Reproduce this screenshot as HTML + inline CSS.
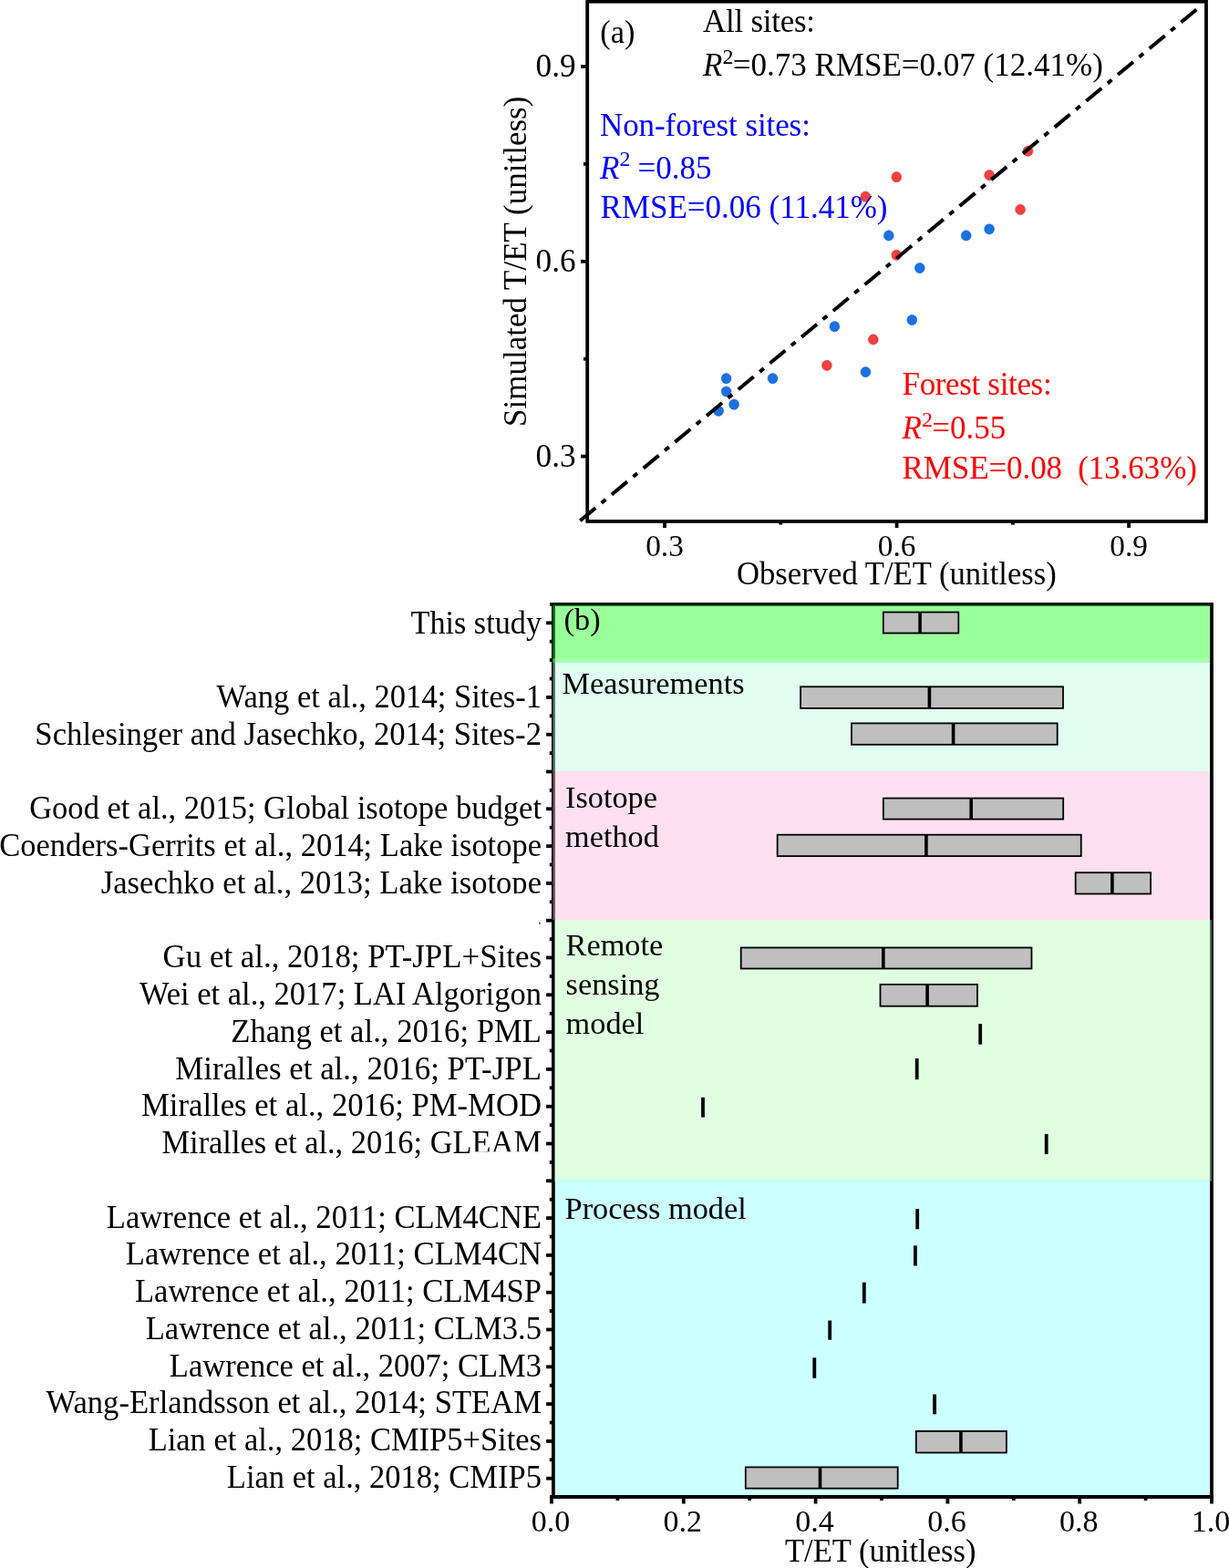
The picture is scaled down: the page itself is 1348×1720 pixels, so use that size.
<!DOCTYPE html>
<html lang="en">
<head>
<meta charset="utf-8">
<title>T/ET evaluation figure</title>
<style>html,body{margin:0;padding:0;background:#fff}svg{display:block}</style>
</head>
<body>
<svg width="1348" height="1720" viewBox="0 0 1348 1720" font-family="'Liberation Serif', serif" font-size="35">
<rect x="0" y="0" width="1348" height="1720" fill="#fff"/>
<g id="panel-a">
<ellipse cx="974.8" cy="258.4" rx="5.4" ry="5.6" fill="#1c70e0" stroke="#0c64dc" stroke-width="0.6"/>
<ellipse cx="1059.7" cy="258.4" rx="5.4" ry="5.6" fill="#1c70e0" stroke="#0c64dc" stroke-width="0.6"/>
<ellipse cx="1085.1" cy="251.3" rx="5.4" ry="5.6" fill="#1c70e0" stroke="#0c64dc" stroke-width="0.6"/>
<ellipse cx="1008.8" cy="294.0" rx="5.4" ry="5.6" fill="#1c70e0" stroke="#0c64dc" stroke-width="0.6"/>
<ellipse cx="1000.3" cy="351.0" rx="5.4" ry="5.6" fill="#1c70e0" stroke="#0c64dc" stroke-width="0.6"/>
<ellipse cx="915.4" cy="358.2" rx="5.4" ry="5.6" fill="#1c70e0" stroke="#0c64dc" stroke-width="0.6"/>
<ellipse cx="949.4" cy="408.1" rx="5.4" ry="5.6" fill="#1c70e0" stroke="#0c64dc" stroke-width="0.6"/>
<ellipse cx="847.5" cy="415.2" rx="5.4" ry="5.6" fill="#1c70e0" stroke="#0c64dc" stroke-width="0.6"/>
<ellipse cx="796.6" cy="415.2" rx="5.4" ry="5.6" fill="#1c70e0" stroke="#0c64dc" stroke-width="0.6"/>
<ellipse cx="796.6" cy="429.5" rx="5.4" ry="5.6" fill="#1c70e0" stroke="#0c64dc" stroke-width="0.6"/>
<ellipse cx="805.1" cy="443.7" rx="5.4" ry="5.6" fill="#1c70e0" stroke="#0c64dc" stroke-width="0.6"/>
<ellipse cx="788.1" cy="450.8" rx="5.4" ry="5.6" fill="#1c70e0" stroke="#0c64dc" stroke-width="0.6"/>
<ellipse cx="1127.5" cy="165.7" rx="5.4" ry="5.6" fill="#f04040" stroke="#ee3030" stroke-width="0.6"/>
<ellipse cx="983.3" cy="194.2" rx="5.4" ry="5.6" fill="#f04040" stroke="#ee3030" stroke-width="0.6"/>
<ellipse cx="1085.1" cy="192.1" rx="5.4" ry="5.6" fill="#f04040" stroke="#ee3030" stroke-width="0.6"/>
<ellipse cx="949.4" cy="215.6" rx="5.4" ry="5.6" fill="#f04040" stroke="#ee3030" stroke-width="0.6"/>
<ellipse cx="1119.1" cy="229.9" rx="5.4" ry="5.6" fill="#f04040" stroke="#ee3030" stroke-width="0.6"/>
<ellipse cx="983.3" cy="279.8" rx="5.4" ry="5.6" fill="#f04040" stroke="#ee3030" stroke-width="0.6"/>
<ellipse cx="957.8" cy="372.4" rx="5.4" ry="5.6" fill="#f04040" stroke="#ee3030" stroke-width="0.6"/>
<ellipse cx="906.9" cy="400.9" rx="5.4" ry="5.6" fill="#f04040" stroke="#ee3030" stroke-width="0.6"/>
<line x1="636.3" y1="571.2" x2="1312.4" y2="10.4" stroke="#000" stroke-width="4" stroke-dasharray="22 8.5 6 8.57"/>
<rect x="644.2" y="1.7" width="678.8" height="570.2" fill="none" stroke="#000" stroke-width="3.8"/>
<line x1="637" x2="644.2" y1="500.6" y2="500.6" stroke="#000" stroke-width="3.8"/>
<line y1="571.9" y2="579" x1="729.0" x2="729.0" stroke="#000" stroke-width="3.8"/>
<line x1="637" x2="644.2" y1="286.8" y2="286.8" stroke="#000" stroke-width="3.8"/>
<line y1="571.9" y2="579" x1="983.6" x2="983.6" stroke="#000" stroke-width="3.8"/>
<line x1="637" x2="644.2" y1="73.0" y2="73.0" stroke="#000" stroke-width="3.8"/>
<line y1="571.9" y2="579" x1="1238.1" x2="1238.1" stroke="#000" stroke-width="3.8"/>
<line x1="640" x2="644.2" y1="393.7" y2="393.7" stroke="#000" stroke-width="3.8"/>
<line y1="571.9" y2="575.6" x1="856.3" x2="856.3" stroke="#000" stroke-width="3.8"/>
<line x1="640" x2="644.2" y1="179.9" y2="179.9" stroke="#000" stroke-width="3.8"/>
<line y1="571.9" y2="575.6" x1="1110.9" x2="1110.9" stroke="#000" stroke-width="3.8"/>
<text x="631.6" y="511.5" text-anchor="end" font-size="35.2">0.3</text>
<text x="729.0" y="610.4" text-anchor="middle" font-size="33.3">0.3</text>
<text x="631.6" y="297.7" text-anchor="end" font-size="35.2">0.6</text>
<text x="983.6" y="610.4" text-anchor="middle" font-size="33.3">0.6</text>
<text x="631.6" y="83.9" text-anchor="end" font-size="35.2">0.9</text>
<text x="1238.1" y="610.4" text-anchor="middle" font-size="33.3">0.9</text>
<polygon points="587.5,293.2 594.1,295.1 597,298.6 587.5,298.6" fill="#fff"/>
<text transform="translate(983.4 641.3) scale(0.9466 1)" text-anchor="middle" font-size="36.6">Observed T/ET (unitless)</text>
<text transform="translate(577.1 286.8) rotate(-90)" text-anchor="middle">Simulated T/ET (unitless)</text>
<text transform="translate(658.3 46.6) scale(0.966 1)" font-size="35.6">(a)</text>
<text x="771" y="34.7" letter-spacing="-0.26">All sites:</text>
<text x="771" y="82.8"><tspan font-style="italic">R</tspan><tspan font-size="24" dy="-13.2">2</tspan><tspan dy="13.2" dx="-0.6">=0.73 RMSE=0.07 (12.41%)</tspan></text>
<g fill="#0000ff">
<text x="658" y="148.6" letter-spacing="-0.09">Non-forest sites:</text>
<text x="658" y="195.6"><tspan font-style="italic">R</tspan><tspan font-size="24" dy="-13.2">2</tspan><tspan dy="13.2" dx="-0.6"> =0.85</tspan></text>
<text x="658.5" y="239.4">RMSE=0.06 (11.41%)</text>
</g>
<g fill="#ff0000">
<text x="989.5" y="433.3" letter-spacing="-0.34">Forest sites:</text>
<text x="989.5" y="481.3"><tspan font-style="italic">R</tspan><tspan font-size="24" dy="-13.2">2</tspan><tspan dy="13.2" dx="-0.6">=0.55</tspan></text>
<text x="989.5" y="524.5" letter-spacing="-0.09" style="white-space:pre">RMSE=0.08  (13.63%)</text>
</g>
</g>
<g id="panel-b">
<path d="M606.9 1642.0 L606.9 662.8 M603.1 662.8 L1330.95 662.8 M1329.0 662.8 L1329.0 1642.0" fill="none" stroke="#000" stroke-width="3.8"/>
<rect x="606.2" y="663.6" width="720.6" height="63.3" fill="rgba(0,255,0,0.4)"/>
<rect x="606.2" y="722.3" width="720.7" height="123.7" fill="rgba(178,255,218,0.4)"/>
<rect x="606.2" y="846" width="720.7" height="163" fill="rgba(255,178,218,0.4)"/>
<rect x="608" y="1009" width="721" height="286.7" fill="rgba(178,255,178,0.4)"/>
<rect x="608.8" y="1294.2" width="718.3" height="346" fill="rgba(128,255,255,0.4)"/>
<line x1="603.1" x2="1330.95" y1="1642.0" y2="1642.0" stroke="#000" stroke-width="3.8"/>
<line x1="599.1" x2="605.2" y1="683.3" y2="683.3" stroke="#000" stroke-width="3.8"/>
<line x1="602.8" x2="605.2" y1="703.7" y2="703.7" stroke="#000" stroke-width="3.8"/>
<line x1="602.8" x2="605.2" y1="724.1" y2="724.1" stroke="#000" stroke-width="3.8"/>
<line x1="602.8" x2="605.2" y1="744.5" y2="744.5" stroke="#000" stroke-width="3.8"/>
<line x1="599.1" x2="605.2" y1="764.9" y2="764.9" stroke="#000" stroke-width="3.8"/>
<line x1="602.8" x2="605.2" y1="785.3" y2="785.3" stroke="#000" stroke-width="3.8"/>
<line x1="599.1" x2="605.2" y1="805.7" y2="805.7" stroke="#000" stroke-width="3.8"/>
<line x1="602.8" x2="605.2" y1="826.1" y2="826.1" stroke="#000" stroke-width="3.8"/>
<line x1="599.1" x2="605.2" y1="846.5" y2="846.5" stroke="#000" stroke-width="3.8"/>
<line x1="602.8" x2="605.2" y1="866.9" y2="866.9" stroke="#000" stroke-width="3.8"/>
<line x1="599.1" x2="605.2" y1="887.3" y2="887.3" stroke="#000" stroke-width="3.8"/>
<line x1="602.8" x2="605.2" y1="907.7" y2="907.7" stroke="#000" stroke-width="3.8"/>
<line x1="599.1" x2="605.2" y1="928.1" y2="928.1" stroke="#000" stroke-width="3.8"/>
<line x1="602.8" x2="605.2" y1="948.5" y2="948.5" stroke="#000" stroke-width="3.8"/>
<line x1="599.1" x2="605.2" y1="968.9" y2="968.9" stroke="#000" stroke-width="3.8"/>
<line x1="602.8" x2="605.2" y1="989.3" y2="989.3" stroke="#000" stroke-width="3.8"/>
<line x1="599.1" x2="605.2" y1="1009.7" y2="1009.7" stroke="#000" stroke-width="3.8"/>
<line x1="602.8" x2="605.2" y1="1030.1" y2="1030.1" stroke="#000" stroke-width="3.8"/>
<line x1="599.1" x2="605.2" y1="1050.5" y2="1050.5" stroke="#000" stroke-width="3.8"/>
<line x1="602.8" x2="605.2" y1="1070.9" y2="1070.9" stroke="#000" stroke-width="3.8"/>
<line x1="599.1" x2="605.2" y1="1091.3" y2="1091.3" stroke="#000" stroke-width="3.8"/>
<line x1="602.8" x2="605.2" y1="1111.7" y2="1111.7" stroke="#000" stroke-width="3.8"/>
<line x1="599.1" x2="605.2" y1="1132.1" y2="1132.1" stroke="#000" stroke-width="3.8"/>
<line x1="602.8" x2="605.2" y1="1152.5" y2="1152.5" stroke="#000" stroke-width="3.8"/>
<line x1="599.1" x2="605.2" y1="1172.9" y2="1172.9" stroke="#000" stroke-width="3.8"/>
<line x1="602.8" x2="605.2" y1="1193.3" y2="1193.3" stroke="#000" stroke-width="3.8"/>
<line x1="599.1" x2="605.2" y1="1213.7" y2="1213.7" stroke="#000" stroke-width="3.8"/>
<line x1="602.8" x2="605.2" y1="1234.1" y2="1234.1" stroke="#000" stroke-width="3.8"/>
<line x1="599.1" x2="605.2" y1="1254.5" y2="1254.5" stroke="#000" stroke-width="3.8"/>
<line x1="602.8" x2="605.2" y1="1274.9" y2="1274.9" stroke="#000" stroke-width="3.8"/>
<line x1="599.1" x2="605.2" y1="1295.3" y2="1295.3" stroke="#000" stroke-width="3.8"/>
<line x1="602.8" x2="605.2" y1="1315.7" y2="1315.7" stroke="#000" stroke-width="3.8"/>
<line x1="599.1" x2="605.2" y1="1336.1" y2="1336.1" stroke="#000" stroke-width="3.8"/>
<line x1="602.8" x2="605.2" y1="1356.5" y2="1356.5" stroke="#000" stroke-width="3.8"/>
<line x1="599.1" x2="605.2" y1="1376.9" y2="1376.9" stroke="#000" stroke-width="3.8"/>
<line x1="602.8" x2="605.2" y1="1397.3" y2="1397.3" stroke="#000" stroke-width="3.8"/>
<line x1="599.1" x2="605.2" y1="1417.7" y2="1417.7" stroke="#000" stroke-width="3.8"/>
<line x1="602.8" x2="605.2" y1="1438.1" y2="1438.1" stroke="#000" stroke-width="3.8"/>
<line x1="599.1" x2="605.2" y1="1458.5" y2="1458.5" stroke="#000" stroke-width="3.8"/>
<line x1="602.8" x2="605.2" y1="1478.9" y2="1478.9" stroke="#000" stroke-width="3.8"/>
<line x1="599.1" x2="605.2" y1="1499.3" y2="1499.3" stroke="#000" stroke-width="3.8"/>
<line x1="602.8" x2="605.2" y1="1519.7" y2="1519.7" stroke="#000" stroke-width="3.8"/>
<line x1="599.1" x2="605.2" y1="1540.1" y2="1540.1" stroke="#000" stroke-width="3.8"/>
<line x1="602.8" x2="605.2" y1="1560.5" y2="1560.5" stroke="#000" stroke-width="3.8"/>
<line x1="599.1" x2="605.2" y1="1580.9" y2="1580.9" stroke="#000" stroke-width="3.8"/>
<line x1="602.8" x2="605.2" y1="1601.3" y2="1601.3" stroke="#000" stroke-width="3.8"/>
<line x1="599.1" x2="605.2" y1="1621.7" y2="1621.7" stroke="#000" stroke-width="3.8"/>
<line x1="605.0" x2="605.0" y1="1642.0" y2="1649.5" stroke="#000" stroke-width="3.8"/>
<text x="604.0" y="1679.8" text-anchor="middle" font-size="34">0.0</text>
<line x1="677.4" x2="677.4" y1="1642.0" y2="1646" stroke="#000" stroke-width="3.8"/>
<line x1="749.8" x2="749.8" y1="1642.0" y2="1649.5" stroke="#000" stroke-width="3.8"/>
<text x="748.8" y="1679.8" text-anchor="middle" font-size="34">0.2</text>
<line x1="822.2" x2="822.2" y1="1642.0" y2="1646" stroke="#000" stroke-width="3.8"/>
<line x1="894.6" x2="894.6" y1="1642.0" y2="1649.5" stroke="#000" stroke-width="3.8"/>
<text x="893.6" y="1679.8" text-anchor="middle" font-size="34">0.4</text>
<line x1="967.0" x2="967.0" y1="1642.0" y2="1646" stroke="#000" stroke-width="3.8"/>
<line x1="1039.4" x2="1039.4" y1="1642.0" y2="1649.5" stroke="#000" stroke-width="3.8"/>
<text x="1038.4" y="1679.8" text-anchor="middle" font-size="34">0.6</text>
<line x1="1111.8" x2="1111.8" y1="1642.0" y2="1646" stroke="#000" stroke-width="3.8"/>
<line x1="1184.2" x2="1184.2" y1="1642.0" y2="1649.5" stroke="#000" stroke-width="3.8"/>
<text x="1183.2" y="1679.8" text-anchor="middle" font-size="34">0.8</text>
<line x1="1256.6" x2="1256.6" y1="1642.0" y2="1646" stroke="#000" stroke-width="3.8"/>
<line x1="1329.0" x2="1329.0" y1="1642.0" y2="1649.5" stroke="#000" stroke-width="3.8"/>
<text x="1328.0" y="1679.8" text-anchor="middle" font-size="34">1.0</text>
<text transform="translate(965.7 1712.9) scale(0.9756 1)" text-anchor="middle" font-size="35.4">T/ET (unitless)</text>
<text transform="translate(594.0 694.7) scale(0.9756 1)" text-anchor="end" font-size="35.083">This study</text>
<text transform="translate(594.0 776.2) scale(0.9756 1)" text-anchor="end" font-size="35.450">Wang et al., 2014; Sites-1</text>
<text transform="translate(594.0 816.9) scale(0.9756 1)" text-anchor="end" font-size="35.561">Schlesinger and Jasechko, 2014; Sites-2</text>
<text transform="translate(594.0 898.4) scale(0.9756 1)" text-anchor="end" font-size="35.391">Good et al., 2015; Global isotope budget</text>
<text transform="translate(594.0 939.1) scale(0.9756 1)" text-anchor="end" font-size="35.364">Coenders-Gerrits et al., 2014; Lake isotope</text>
<text transform="translate(594.0 979.9) scale(0.9756 1)" text-anchor="end" font-size="35.473">Jasechko et al., 2013; Lake isotope</text>
<text transform="translate(594.0 1061.4) scale(0.9756 1)" text-anchor="end" font-size="35.738">Gu et al., 2018; PT-JPL+Sites</text>
<text transform="translate(594.0 1102.1) scale(0.9756 1)" text-anchor="end" font-size="35.392">Wei et al., 2017; LAI Algorigon</text>
<text transform="translate(594.0 1142.8) scale(0.9756 1)" text-anchor="end" font-size="35.532">Zhang et al., 2016; PML</text>
<text transform="translate(594.0 1183.6) scale(0.9756 1)" text-anchor="end" font-size="35.755">Miralles et al., 2016; PT-JPL</text>
<text transform="translate(594.0 1224.3) scale(0.9756 1)" text-anchor="end" font-size="35.521">Miralles et al., 2016; PM-MOD</text>
<text transform="translate(594.0 1265.1) scale(0.9756 1)" text-anchor="end" font-size="35.269">Miralles et al., 2016; GLEAM</text>
<text transform="translate(594.0 1346.5) scale(0.9756 1)" text-anchor="end" font-size="35.475">Lawrence et al., 2011; CLM4CNE</text>
<text transform="translate(594.0 1387.3) scale(0.9756 1)" text-anchor="end" font-size="35.492">Lawrence et al., 2011; CLM4CN</text>
<text transform="translate(594.0 1428.0) scale(0.9756 1)" text-anchor="end" font-size="35.449">Lawrence et al., 2011; CLM4SP</text>
<text transform="translate(594.0 1468.8) scale(0.9756 1)" text-anchor="end" font-size="35.507">Lawrence et al., 2011; CLM3.5</text>
<text transform="translate(594.0 1509.5) scale(0.9756 1)" text-anchor="end" font-size="35.385">Lawrence et al., 2007; CLM3</text>
<text transform="translate(594.0 1550.2) scale(0.9756 1)" text-anchor="end" font-size="35.507">Wang-Erlandsson et al., 2014; STEAM</text>
<text transform="translate(594.0 1591.0) scale(0.9756 1)" text-anchor="end" font-size="35.375">Lian et al., 2018; CMIP5+Sites</text>
<text transform="translate(594.0 1631.7) scale(0.9756 1)" text-anchor="end" font-size="35.390">Lian et al., 2018; CMIP5</text>
<rect x="558" y="980.2" width="40.6" height="22" fill="#fff"/>
<rect x="515" y="1263.3" width="83.6" height="22" fill="#fff"/>
<text transform="translate(593.6 1014.4) scale(0.85 1.6)" text-anchor="end" font-size="14">.</text>
<rect x="968.80" y="671.5" width="82.50" height="23.0" fill="#bfbfbf" stroke="#000" stroke-width="1.8"/>
<line x1="1009.1" x2="1009.1" y1="671.5" y2="694.5" stroke="#000" stroke-width="3.6"/>
<rect x="878.10" y="753.3" width="287.90" height="23.6" fill="#bfbfbf" stroke="#000" stroke-width="1.8"/>
<line x1="1019.4" x2="1019.4" y1="753.3" y2="776.9" stroke="#000" stroke-width="3.6"/>
<rect x="934.00" y="793.4" width="225.70" height="23.4" fill="#bfbfbf" stroke="#000" stroke-width="1.8"/>
<line x1="1045.6" x2="1045.6" y1="793.4" y2="816.8" stroke="#000" stroke-width="3.6"/>
<rect x="968.85" y="875.6" width="197.35" height="23.0" fill="#bfbfbf" stroke="#000" stroke-width="1.8"/>
<line x1="1065.2" x2="1065.2" y1="875.6" y2="898.6" stroke="#000" stroke-width="3.6"/>
<rect x="852.65" y="915.7" width="333.10" height="23.4" fill="#bfbfbf" stroke="#000" stroke-width="1.8"/>
<line x1="1015.9" x2="1015.9" y1="915.7" y2="939.1" stroke="#000" stroke-width="3.6"/>
<rect x="1179.70" y="957.2" width="82.40" height="23.3" fill="#bfbfbf" stroke="#000" stroke-width="1.8"/>
<line x1="1219.9" x2="1219.9" y1="957.2" y2="980.5" stroke="#000" stroke-width="3.6"/>
<rect x="812.70" y="1039.5" width="318.75" height="23.0" fill="#bfbfbf" stroke="#000" stroke-width="1.8"/>
<line x1="968.8" x2="968.8" y1="1039.5" y2="1062.5" stroke="#000" stroke-width="3.6"/>
<rect x="965.50" y="1079.9" width="106.50" height="23.8" fill="#bfbfbf" stroke="#000" stroke-width="1.8"/>
<line x1="1017.1" x2="1017.1" y1="1079.9" y2="1103.7" stroke="#000" stroke-width="3.6"/>
<rect x="1004.80" y="1569.9" width="99.10" height="23.6" fill="#bfbfbf" stroke="#000" stroke-width="1.8"/>
<line x1="1053.9" x2="1053.9" y1="1569.9" y2="1593.5" stroke="#000" stroke-width="3.6"/>
<rect x="817.80" y="1609.4" width="166.90" height="23.3" fill="#bfbfbf" stroke="#000" stroke-width="1.8"/>
<line x1="899.5" x2="899.5" y1="1609.4" y2="1632.7" stroke="#000" stroke-width="3.6"/>
<line x1="1075.2" x2="1075.2" y1="1123.1" y2="1145.7" stroke="#000" stroke-width="3.8"/>
<line x1="1005.7" x2="1005.7" y1="1161.0" y2="1184.2" stroke="#000" stroke-width="3.8"/>
<line x1="771.0" x2="771.0" y1="1203.8" y2="1225.6" stroke="#000" stroke-width="3.8"/>
<line x1="1147.7" x2="1147.7" y1="1243.9" y2="1266.1" stroke="#000" stroke-width="3.8"/>
<line x1="1006.2" x2="1006.2" y1="1326.1" y2="1348.3" stroke="#000" stroke-width="3.8"/>
<line x1="1003.9" x2="1003.9" y1="1366.3" y2="1388.5" stroke="#000" stroke-width="3.8"/>
<line x1="947.8" x2="947.8" y1="1406.7" y2="1429.6" stroke="#000" stroke-width="3.8"/>
<line x1="910.2" x2="910.2" y1="1448.5" y2="1469.7" stroke="#000" stroke-width="3.8"/>
<line x1="893.3" x2="893.3" y1="1489.3" y2="1511.8" stroke="#000" stroke-width="3.8"/>
<line x1="1025.1" x2="1025.1" y1="1529.5" y2="1551.3" stroke="#000" stroke-width="3.8"/>
<g font-size="34.3">
<text x="618.6" y="691.1">(b)</text>
<text x="616.5" y="761">Measurements</text>
<text x="620" y="885.6">Isotope</text>
<text x="620" y="928.6">method</text>
<text x="620.6" y="1048">Remote</text>
<text x="620.6" y="1091">sensing</text>
<text x="620.6" y="1134">model</text>
<text x="619.6" y="1336.6">Process model</text>
</g>
</g>
</svg>
</body>
</html>
